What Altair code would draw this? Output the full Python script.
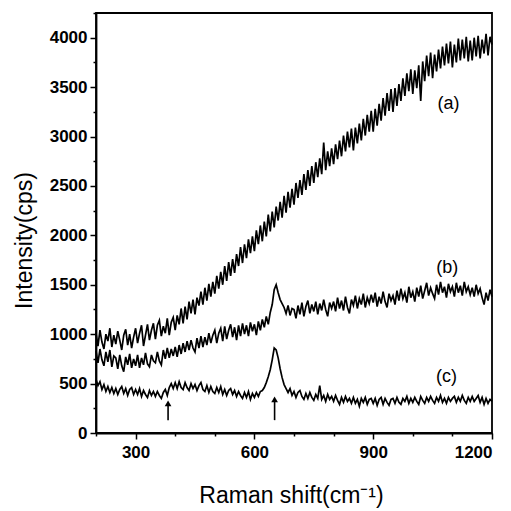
import altair as alt
import pandas as pd

# Raman shift grid (cm^-1)
shift = list(range(200, 1201, 5))

# (a) intensity values
spec_a = [
    1010, 880, 1040, 920, 850, 1000, 930, 1060, 870, 990,
    900, 1030, 940, 840, 990, 1050, 890, 1000, 860, 970,
    1060, 910, 1010, 1090, 880, 990, 1100, 940, 1040, 1110,
    950, 1090, 1140, 980, 1080, 1010, 1160, 990, 1120, 1170,
    1040, 1190, 1100, 1260, 1110, 1280, 1150, 1330, 1210, 1350,
    1200, 1370, 1290, 1430, 1300, 1470, 1340, 1510, 1380, 1530,
    1410, 1590, 1460, 1630, 1500, 1690, 1540, 1730, 1590, 1760,
    1620, 1810, 1690, 1880, 1720, 1910, 1770, 1960, 1820, 1990,
    1840, 2050, 1910, 2100, 1940, 2140, 1990, 2210, 2040, 2240,
    2080, 2290, 2150, 2340, 2180, 2400, 2230, 2440, 2280, 2470,
    2310, 2530, 2380, 2560, 2410, 2620, 2460, 2660, 2500, 2700,
    2530, 2740, 2590, 2780, 2620, 2940, 2660, 2850, 2700, 2880,
    2720, 2920, 2770, 2960, 2800, 3010, 2850, 3050, 2890, 3080,
    2860, 3090, 2930, 3130, 2960, 3180, 3010, 3220, 3050, 3260,
    3050, 3280, 3110, 3330, 3160, 3390, 3210, 3440, 3260, 3480,
    3250, 3490, 3310, 3530, 3360, 3590, 3410, 3640, 3460, 3680,
    3430, 3670, 3490, 3720, 3360, 3760, 3560, 3820, 3610, 3850,
    3590, 3830, 3660, 3880, 3690, 3910, 3720, 3940, 3740, 3960,
    3700, 3930, 3750, 3990, 3770, 3980, 3790, 4010, 3760, 3970,
    3770, 4000, 3810, 4020, 3790, 3980, 3840, 4040, 3820, 4010,
    3930,
]

# (b)
spec_b = [
    830, 710, 850, 740, 680, 820, 720, 840, 670, 780,
    760, 650, 790, 680, 620, 770, 690, 800, 660, 750,
    680, 790, 660, 760, 690, 810, 700, 670, 790, 730,
    710, 820, 730, 690, 840, 750, 860, 760, 850, 780,
    870, 770, 890, 800, 910, 820, 930, 840, 940, 860,
    820, 960, 860, 980, 870, 970, 890, 1010, 910, 990,
    1040, 910, 1010, 1060, 930, 1080, 950, 1040, 1100, 970,
    1070, 940, 1090, 980, 1110, 1000, 1090, 980, 1120, 1030,
    1100, 990, 1130, 1040, 1150, 1070, 1180, 1100, 1220, 1300,
    1450, 1500, 1420, 1350, 1310, 1270, 1210, 1290, 1190, 1260,
    1250, 1160, 1290, 1200, 1320, 1180, 1280, 1340, 1210, 1300,
    1230, 1330, 1200, 1310, 1240, 1350, 1250, 1180, 1320, 1260,
    1330, 1230, 1370, 1260, 1340, 1240, 1380, 1270, 1210, 1350,
    1290, 1390, 1260, 1360, 1300, 1410, 1270, 1370, 1310, 1400,
    1320, 1420, 1280, 1380, 1310, 1430, 1330, 1270, 1410, 1340,
    1390, 1300, 1440, 1340, 1460, 1360, 1420, 1320, 1480, 1370,
    1430, 1330, 1470, 1380, 1490, 1360, 1440, 1520, 1390, 1470,
    1410, 1360, 1500, 1400, 1530, 1420, 1480, 1370, 1510, 1430,
    1480, 1380, 1520, 1420, 1490, 1390, 1530, 1430, 1480, 1400,
    1470, 1380, 1500, 1410, 1460, 1370, 1300, 1420, 1340, 1450,
    1380,
]

# (c)
spec_c = [
    540, 480, 520, 440, 490, 420, 470, 410, 460, 400,
    450, 390, 440, 470, 400, 450, 380, 440, 460, 390,
    440, 390, 450, 370, 430, 390, 360, 430, 380, 420,
    370, 420, 380, 350, 410, 440, 380, 460, 500, 450,
    510, 450, 520, 460, 440, 510, 460, 430, 500, 450,
    490, 430, 480, 510, 440, 420, 480, 410, 470, 420,
    400, 460, 410, 470, 390, 440, 380, 430, 450, 390,
    430, 370, 420, 380, 350, 410, 360, 420, 340, 400,
    360, 410, 370, 420, 430, 460, 510, 570, 640, 740,
    860, 840, 760, 650, 560, 490, 450, 410, 450, 380,
    420, 360, 410, 430, 370, 340, 400, 350, 410, 360,
    330, 390, 350, 480, 340, 380, 320, 390, 340, 370,
    320, 380, 330, 290, 360, 310, 370, 320, 350, 300,
    360, 300, 340, 270, 350, 310, 360, 290, 340, 350,
    300, 350, 280, 340, 360, 290, 350, 310, 280, 340,
    350, 300, 360, 310, 290, 350, 320, 370, 300, 350,
    310, 360, 320, 290, 370, 330, 300, 360, 320, 370,
    330, 300, 360, 320, 380, 310, 350, 300, 360, 320,
    350, 370, 310, 360, 320, 380, 330, 300, 360, 320,
    370, 320, 350, 380, 310, 360, 290, 350, 300, 340,
    320,
]

label_text = ["(a)", "(b)", "(c)"]
label_x = [1090, 1087, 1085]
label_y = [3330, 1670, 565]

arrow_x = [382, 651]
arrow_y0 = [130, 130]
arrow_y1 = [300, 340]

x_ticks = list(range(200, 1201, 100))
y_ticks = list(range(0, 4251, 250))

df = pd.DataFrame({
    "x": shift * 3,
    "y": spec_a + spec_b + spec_c,
    "s": ["a"] * len(spec_a) + ["b"] * len(spec_b) + ["c"] * len(spec_c),
})
lab = pd.DataFrame({"x": label_x, "y": label_y, "t": label_text})
arr = pd.DataFrame({"x": arrow_x, "y": arrow_y0, "y2": arrow_y1})
head = pd.DataFrame({"x": arrow_x, "y": arrow_y1})

xs = alt.Scale(domain=[200, 1200], nice=False, zero=False)
ys = alt.Scale(domain=[0, 4250], nice=False)

x_axis = alt.Axis(
    values=x_ticks,
    labelExpr="(datum.value - 300) % 300 === 0 ? datum.value : ''",
    tickSize={"condition": {"test": "(datum.value - 300) % 300 === 0", "value": 6}, "value": 3},
    title="Raman shift(cm⁻¹)",
    titleX=195, titleY=69, titleAlign="center", titleBaseline="alphabetic",
    labelPadding=5,
)
y_axis = alt.Axis(
    values=y_ticks,
    labelExpr="datum.value % 500 === 0 ? datum.value : ''",
    tickSize={"condition": {"test": "datum.value % 500 === 0", "value": 6}, "value": 3},
    title="Intensity(cps)",
    titleX=-65, titleY=227, titleAlign="center", titleBaseline="alphabetic", titleAngle=-90,
    labelPadding=3,
)

X = alt.X("x:Q", scale=xs, axis=x_axis)
Y = alt.Y("y:Q", scale=ys, axis=y_axis)

lines = alt.Chart(df).mark_line(color="black", strokeWidth=1.7).encode(
    x=X, y=Y, detail="s:N",
)

labels = alt.Chart(lab).mark_text(fontSize=18, color="black", font="Liberation Sans").encode(
    x=X, y=Y, text="t:N",
)

shafts = alt.Chart(arr).mark_rule(color="black", strokeWidth=1.6).encode(
    x=X, y=Y, y2="y2:Q",
)
heads = alt.Chart(head).mark_point(shape="triangle-up", filled=True, color="black", size=45, opacity=1).encode(
    x=X, y=Y,
)

chart = alt.layer(lines, shafts, heads, labels).properties(
    width=396, height=420,
    background="white",
    autosize=alt.AutoSizeParams(type="none"),
    padding={"left": 96, "top": 13, "right": 19, "bottom": 78},
).configure_view(
    stroke="black", strokeWidth=1.8
).configure_axis(
    domainColor="black", domainWidth=1.8, tickColor="black", tickWidth=1.5,
    labelFont="Liberation Sans", labelFontSize=17, labelColor="black", labelFontWeight="bold",
    titleFont="Liberation Sans", titleFontSize=23, titleColor="black", titleFontWeight="normal",
    grid=False,
)

chart.save("out.html", embed_options={"renderer": "svg", "actions": False})
